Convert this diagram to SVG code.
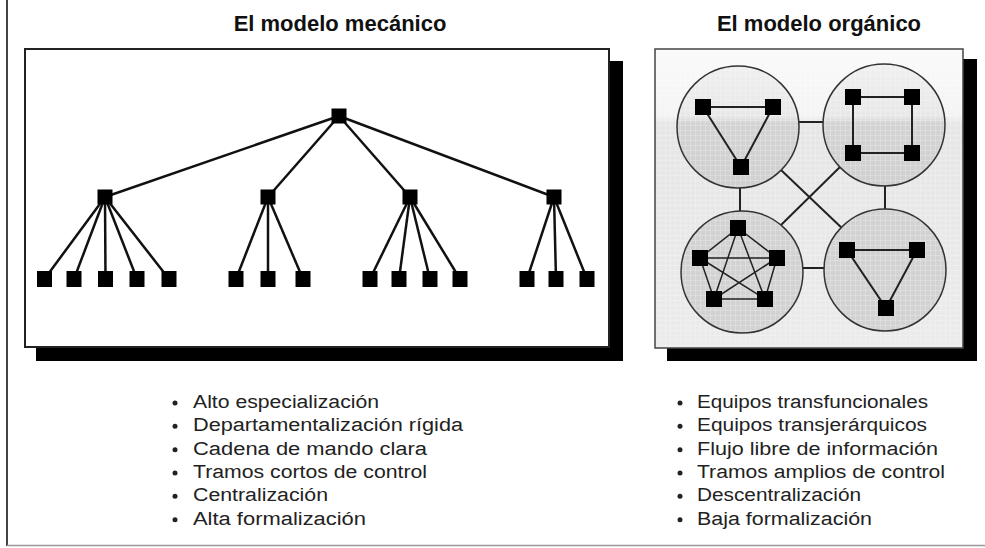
<svg xmlns="http://www.w3.org/2000/svg" width="985" height="548" viewBox="0 0 985 548">
<defs>
<style>
.title{font-family:"Liberation Sans",Arial,sans-serif;font-weight:bold;font-size:22px;fill:#111;text-anchor:middle}
.item{font-family:"Liberation Sans",Arial,sans-serif;font-size:18px;fill:#222}
.tl{stroke:#111;stroke-width:2.5;fill:none}
.ol{stroke:#222;stroke-width:2;fill:none}
.pl{stroke:#222;stroke-width:1.5;fill:none}
.sq{fill:#000}
.circ{stroke:#333;stroke-width:1.5}
.bul{fill:#222}
</style>
<linearGradient id="bg" gradientUnits="userSpaceOnUse" x1="0" y1="49" x2="0" y2="348">
<stop offset="0" stop-color="#fafafa"/>
<stop offset="0.22" stop-color="#f4f4f4"/>
<stop offset="0.25" stop-color="#e6e6e6"/>
<stop offset="1" stop-color="#ebebeb"/>
</linearGradient>
<linearGradient id="topc" gradientUnits="userSpaceOnUse" x1="0" y1="64" x2="0" y2="188">
<stop offset="0" stop-color="#efefef"/>
<stop offset="0.42" stop-color="#e8e8e8"/>
<stop offset="0.48" stop-color="#d3d3d3"/>
<stop offset="1" stop-color="#d0d0d0"/>
</linearGradient>
<pattern id="grid" width="5" height="5" patternUnits="userSpaceOnUse">
<path d="M0 0H5M0 0V5" stroke="#ffffff" stroke-width="0.8" opacity="0.55"/>
</pattern>
</defs>
<rect width="985" height="548" fill="#fff"/>
<g id="frame">
<line x1="7" y1="0" x2="7" y2="546" stroke="#444" stroke-width="2"/>
<line x1="7" y1="545.5" x2="985" y2="545.5" stroke="#999" stroke-width="1.5"/>
</g>
<text class="title" x="340" y="31">El modelo mecánico</text>
<text class="title" x="819" y="31">El modelo orgánico</text>
<g id="mech-box">
<rect x="36" y="61" width="587" height="300" fill="#000"/>
<rect x="25" y="49" width="584" height="298" fill="#fff" stroke="#222" stroke-width="2"/>
</g>
<g id="org-box">
<rect x="667" y="59" width="310" height="302" fill="#000"/>
<rect x="655" y="49" width="308" height="299" fill="url(#bg)" stroke="#444" stroke-width="1.5"/>
<rect x="656" y="50" width="306" height="297" fill="url(#grid)"/>
</g>
<g id="connectors">
<g class="tl">
<line x1="339" y1="116" x2="105" y2="197"/>
<line x1="339" y1="116" x2="268" y2="197"/>
<line x1="339" y1="116" x2="410" y2="197"/>
<line x1="339" y1="116" x2="554" y2="197"/>
<line x1="105" y1="197" x2="44.5" y2="279"/>
<line x1="105" y1="197" x2="74" y2="279"/>
<line x1="105" y1="197" x2="105.5" y2="279"/>
<line x1="105" y1="197" x2="137" y2="279"/>
<line x1="105" y1="197" x2="169" y2="279"/>
<line x1="268" y1="197" x2="236" y2="279"/>
<line x1="268" y1="197" x2="268" y2="279"/>
<line x1="268" y1="197" x2="303" y2="279"/>
<line x1="410" y1="197" x2="370" y2="279"/>
<line x1="410" y1="197" x2="399" y2="279"/>
<line x1="410" y1="197" x2="430" y2="279"/>
<line x1="410" y1="197" x2="460" y2="279"/>
<line x1="554" y1="197" x2="527" y2="279"/>
<line x1="554" y1="197" x2="556" y2="279"/>
<line x1="554" y1="197" x2="587" y2="279"/>
</g>
<g class="ol">
<line x1="798" y1="122" x2="824" y2="122"/>
<line x1="740" y1="188" x2="740" y2="211"/>
<line x1="885" y1="186" x2="885" y2="209"/>
<line x1="802" y1="268" x2="825" y2="268"/>
<line x1="781" y1="170" x2="845" y2="231"/>
<line x1="841" y1="166" x2="781" y2="225"/>
</g>
</g>
<g id="mech-nodes" class="sq">
<g id="m-root"><rect x="331.5" y="108.5" width="15" height="15"/></g>
<g id="m-a"><rect x="97.5" y="189.5" width="15" height="15"/></g>
<g id="m-b"><rect x="260.5" y="189.5" width="15" height="15"/></g>
<g id="m-c"><rect x="402.5" y="189.5" width="15" height="15"/></g>
<g id="m-d"><rect x="546.5" y="189.5" width="15" height="15"/></g>
<g id="m-a1"><rect x="37" y="271" width="15" height="16"/></g>
<g id="m-a2"><rect x="66.5" y="271" width="15" height="16"/></g>
<g id="m-a3"><rect x="98" y="271" width="15" height="16"/></g>
<g id="m-a4"><rect x="129.5" y="271" width="15" height="16"/></g>
<g id="m-a5"><rect x="161.5" y="271" width="15" height="16"/></g>
<g id="m-b1"><rect x="228.5" y="271" width="15" height="16"/></g>
<g id="m-b2"><rect x="260.5" y="271" width="15" height="16"/></g>
<g id="m-b3"><rect x="295.5" y="271" width="15" height="16"/></g>
<g id="m-c1"><rect x="362.5" y="271" width="15" height="16"/></g>
<g id="m-c2"><rect x="391.5" y="271" width="15" height="16"/></g>
<g id="m-c3"><rect x="422.5" y="271" width="15" height="16"/></g>
<g id="m-c4"><rect x="452.5" y="271" width="15" height="16"/></g>
<g id="m-d1"><rect x="519.5" y="271" width="15" height="16"/></g>
<g id="m-d2"><rect x="548.5" y="271" width="15" height="16"/></g>
<g id="m-d3"><rect x="579.5" y="271" width="15" height="16"/></g>
</g>
<g id="team-tl">
<circle class="circ" cx="738" cy="127" r="61" fill="url(#topc)"/>
<circle cx="738" cy="127" r="60" fill="url(#grid)"/>
<path class="ol" d="M703 107H773L741 167Z"/>
<g class="sq"><rect x="695" y="99" width="16" height="16"/><rect x="765" y="99" width="16" height="16"/><rect x="733" y="159" width="16" height="16"/></g>
</g>
<g id="team-tr">
<circle class="circ" cx="884" cy="125" r="61" fill="url(#topc)"/>
<circle cx="884" cy="125" r="60" fill="url(#grid)"/>
<path class="ol" d="M853 97H912V153H853Z"/>
<g class="sq"><rect x="845" y="89" width="16" height="16"/><rect x="904" y="89" width="16" height="16"/><rect x="845" y="145" width="16" height="16"/><rect x="904" y="145" width="16" height="16"/></g>
</g>
<g id="team-bl">
<circle class="circ" cx="742" cy="272" r="61" fill="#d2d2d2"/>
<circle cx="742" cy="272" r="60" fill="url(#grid)"/>
<path class="pl" d="M738 228L777 258L765 299L714 299L700 258Z M738 228L765 299 M738 228L714 299 M700 258L777 258 M700 258L765 299 M777 258L714 299"/>
<g class="sq"><rect x="730" y="220" width="16" height="16"/><rect x="692" y="250" width="16" height="16"/><rect x="769" y="250" width="16" height="16"/><rect x="706" y="291" width="16" height="16"/><rect x="757" y="291" width="16" height="16"/></g>
</g>
<g id="team-br">
<circle class="circ" cx="885" cy="270" r="61" fill="#d2d2d2"/>
<circle cx="885" cy="270" r="60" fill="url(#grid)"/>
<path class="ol" d="M847 250H917L886 308Z"/>
<g class="sq"><rect x="839" y="242" width="16" height="16"/><rect x="909" y="242" width="16" height="16"/><rect x="878" y="300" width="16" height="16"/></g>
</g>
<g id="list-mech">
<g class="bul"><circle cx="175" cy="403" r="2.5"/><circle cx="175" cy="426.3" r="2.5"/><circle cx="175" cy="449.7" r="2.5"/><circle cx="175" cy="473" r="2.5"/><circle cx="175" cy="496.3" r="2.5"/><circle cx="175" cy="519.7" r="2.5"/></g>
<text class="item" x="193" y="408" textLength="186" lengthAdjust="spacingAndGlyphs">Alto especialización</text>
<text class="item" x="193" y="431.3" textLength="270" lengthAdjust="spacingAndGlyphs">Departamentalización rígida</text>
<text class="item" x="193" y="454.7" textLength="234" lengthAdjust="spacingAndGlyphs">Cadena de mando clara</text>
<text class="item" x="193" y="478" textLength="234" lengthAdjust="spacingAndGlyphs">Tramos cortos de control</text>
<text class="item" x="193" y="501.3" textLength="135" lengthAdjust="spacingAndGlyphs">Centralización</text>
<text class="item" x="193" y="524.7" textLength="173" lengthAdjust="spacingAndGlyphs">Alta formalización</text>
</g>
<g id="list-org">
<g class="bul"><circle cx="680" cy="403" r="2.5"/><circle cx="680" cy="426.3" r="2.5"/><circle cx="680" cy="449.7" r="2.5"/><circle cx="680" cy="473" r="2.5"/><circle cx="680" cy="496.3" r="2.5"/><circle cx="680" cy="519.7" r="2.5"/></g>
<text class="item" x="697" y="408" textLength="231" lengthAdjust="spacingAndGlyphs">Equipos transfuncionales</text>
<text class="item" x="697" y="431.3" textLength="230" lengthAdjust="spacingAndGlyphs">Equipos transjerárquicos</text>
<text class="item" x="697" y="454.7" textLength="241" lengthAdjust="spacingAndGlyphs">Flujo libre de información</text>
<text class="item" x="697" y="478" textLength="248" lengthAdjust="spacingAndGlyphs">Tramos amplios de control</text>
<text class="item" x="697" y="501.3" textLength="164" lengthAdjust="spacingAndGlyphs">Descentralización</text>
<text class="item" x="697" y="524.7" textLength="175" lengthAdjust="spacingAndGlyphs">Baja formalización</text>
</g>
</svg>
